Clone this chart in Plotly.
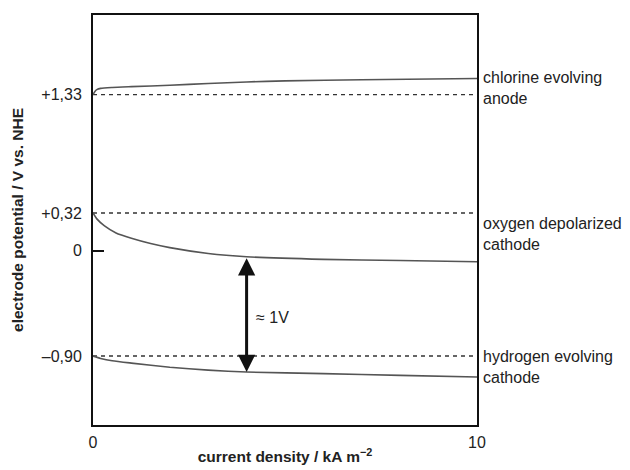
import plotly.graph_objects as go

# Data
cl_x = [0, 0.05, 0.1, 0.2, 0.5, 1, 2, 3, 4, 5, 7, 10]
cl_v = [1.33, 1.357, 1.372, 1.383, 1.391, 1.398, 1.41, 1.425, 1.438, 1.447, 1.457, 1.468]

o2_x = [0, 0.1, 0.3, 0.6, 1, 1.5, 2, 3, 4, 6, 8, 10]
o2_v = [0.32, 0.27, 0.21, 0.15, 0.105, 0.06, 0.025, -0.025, -0.053, -0.075, -0.085, -0.095]

h2_x = [0, 0.2, 0.5, 1, 2, 3, 4, 6, 8, 10]
h2_v = [-0.90, -0.92, -0.94, -0.96, -0.995, -1.02, -1.036, -1.05, -1.065, -1.078]

eq_potentials = [1.33, 0.32, -0.90]
y_tickvals = [1.33, 0.32, 0, -0.90]
y_ticktext = ["+1,33", "+0,32", "0", "\u20130,90"]
x_tickvals = [0, 10]
x_ticktext = ["0", "10"]

labels = ["chlorine evolving<br>anode", "oxygen depolarized<br>cathode", "hydrogen evolving<br>cathode"]
label_y = [1.39, 0.14, -0.99]

arrow_x = 4.0
arrow_top = -0.053
arrow_bottom = -1.036
arrow_label = "\u2248 1V"
arrow_label_pos = (4.2, -0.57)

FONT = "Liberation Sans, Arial, Helvetica, sans-serif"
CURVE = "#555555"
DASH = "#333333"

fig = go.Figure()

for v in eq_potentials:
    fig.add_trace(go.Scatter(x=[0, 10], y=[v, v], mode="lines",
                             line=dict(color=DASH, width=1.4, dash="4px,4px"),
                             hoverinfo="skip", showlegend=False))

for xs, vs in [(cl_x, cl_v), (o2_x, o2_v), (h2_x, h2_v)]:
    fig.add_trace(go.Scatter(x=xs, y=vs, mode="lines",
                             line=dict(color=CURVE, width=1.6, shape="spline", smoothing=0.6),
                             showlegend=False))

fig.add_annotation(x=arrow_x, y=arrow_bottom, ax=arrow_x, ay=arrow_top,
                   xref="x", yref="y", axref="x", ayref="y",
                   showarrow=True, arrowhead=2, arrowside="end+start",
                   arrowwidth=3, arrowsize=1.15, arrowcolor="#111111",
                   standoff=0, startstandoff=0, text="")

fig.add_annotation(x=arrow_label_pos[0], y=arrow_label_pos[1], xref="x", yref="y",
                   text=arrow_label, showarrow=False, xanchor="left", yanchor="middle",
                   font=dict(family=FONT, size=16, color="#222222"))

for t, yv in zip(labels, label_y):
    fig.add_annotation(x=1, y=yv, xref="paper", yref="y", text=t, showarrow=False,
                       xanchor="left", yanchor="middle", xshift=4, align="left",
                       font=dict(family=FONT, size=16, color="#222222"))

fig.update_layout(
    width=630, height=470,
    margin=dict(l=85, r=161, t=5, b=53),
    plot_bgcolor="white", paper_bgcolor="white",
    font=dict(family=FONT, size=16, color="#222222"),
    xaxis=dict(range=[0, 10], tickvals=x_tickvals, ticktext=x_ticktext, ticks="",
               showgrid=False, zeroline=False, showline=True, linecolor="#111111",
               linewidth=2, mirror=True, ticklabelstandoff=2,
               title=dict(text="<b>current density / kA m<sup>\u22122</sup></b>",
                          font=dict(size=15.5), standoff=1)),
    yaxis=dict(range=[-1.488, 2.009], tickvals=y_tickvals, ticktext=y_ticktext, ticks="",
               showgrid=False, zeroline=False, showline=True, linecolor="#111111",
               linewidth=2, mirror=True, ticklabelstandoff=6,
               minor=dict(tickvals=[0], ticks="inside", ticklen=11, tickwidth=1.5,
                          tickcolor="#111111", showgrid=False),
               title=dict(text="<b>electrode potential / V vs. NHE</b>",
                          font=dict(size=15.5), standoff=14)),
)

fig.write_html("out.html")
